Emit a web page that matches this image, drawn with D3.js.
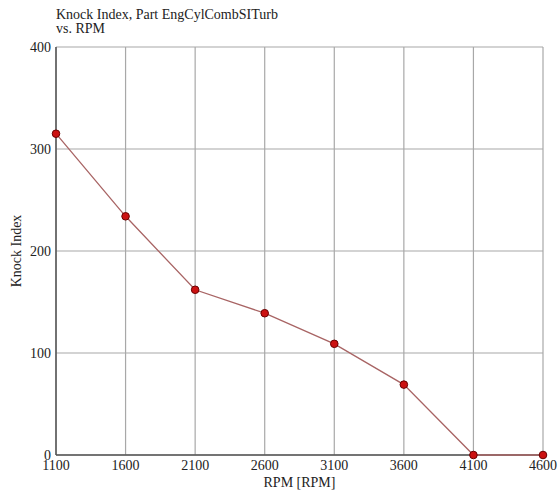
<!DOCTYPE html>
<html>
<head>
<meta charset="utf-8">
<script src="https://cdn.jsdelivr.net/npm/d3@7"></script>
<style>
  body { margin: 0; background: #fff; }
  svg text { font-family: "Liberation Serif", "Times New Roman", serif; fill: #222; }
</style>
</head>
<body>
<svg id="chart" width="558" height="491"></svg>
<script>
// data
var rpm = [1100, 1600, 2100, 2600, 3100, 3600, 4100, 4600];
var knock = [315, 234, 162, 139, 109, 69, 0, 0];
var yTicks = [0, 100, 200, 300, 400];

var svg = d3.select("#chart");
// plot box (don't call it "top", that's window.top)
var pLeft = 56, pRight = 543, pTop = 47, pBottom = 455;

var x = d3.scaleLinear().domain([1100, 4600]).range([pLeft, pRight]);
var y = d3.scaleLinear().domain([0, 400]).range([pBottom, pTop]);

// grid
svg.append("g").selectAll("line").data(rpm).enter().append("line")
    .attr("x1", d => x(d)).attr("x2", d => x(d))
    .attr("y1", pTop).attr("y2", pBottom)
    .style("stroke", "#a8a8a8").style("stroke-width", 1.2)
svg.append("g").selectAll("line").data(yTicks).enter().append("line")
    .attr("x1", pLeft).attr("x2", pRight)
    .attr("y1", d => y(d)).attr("y2", d => y(d))
    .style("stroke", "#a8a8a8").style("stroke-width", 1.2)

// axes
svg.append("line").attr("x1", pLeft).attr("x2", pLeft).attr("y1", pTop).attr("y2", pBottom)
    .style("stroke", "#555").style("stroke-width", 1.5)
svg.append("line").attr("x1", pLeft).attr("x2", pRight).attr("y1", pBottom).attr("y2", pBottom)
    .style("stroke", "#555").style("stroke-width", 1.5)

// tick labels
svg.append("g").selectAll("text").data(yTicks).enter().append("text")
    .attr("x", pLeft - 5).attr("y", d => y(d) + 5)
    .attr("text-anchor", "end").style("font-size", "14px")
    .text(d => d)
svg.append("g").selectAll("text").data(rpm).enter().append("text")
    .attr("x", d => x(d)).attr("y", pBottom + 15)
    .attr("text-anchor", "middle").style("font-size", "14px")
    .text(d => d)

// axis titles
svg.append("text").attr("x", (pLeft + pRight) / 2).attr("y", 487)
    .attr("text-anchor", "middle").style("font-size", "14px").text("RPM [RPM]")
svg.append("text").attr("transform", "translate(21," + ((pTop + pBottom) / 2) + ") rotate(-90)")
    .attr("text-anchor", "middle").style("font-size", "14px").text("Knock Index")

// chart title
svg.append("text").attr("x", 56).attr("y", 19).style("font-size", "14px").text("Knock Index, Part EngCylCombSITurb")
svg.append("text").attr("x", 56).attr("y", 33).style("font-size", "14px").text("vs. RPM")

// series
var pts = rpm.map((r, i) => [r, knock[i]]);
svg.append("path").datum(pts)
    .attr("d", d3.line().x(d => x(d[0])).y(d => y(d[1])))
    .style("fill", "none").style("stroke", "#a86464").style("stroke-width", 1.3)
svg.append("g").selectAll("circle").data(pts).enter().append("circle")
    .attr("cx", d => x(d[0])).attr("cy", d => y(d[1])).attr("r", 3.8)
    .style("fill", "#cc1111").style("stroke", "#6a0000").style("stroke-width", 1)
</script>
</body>
</html>
